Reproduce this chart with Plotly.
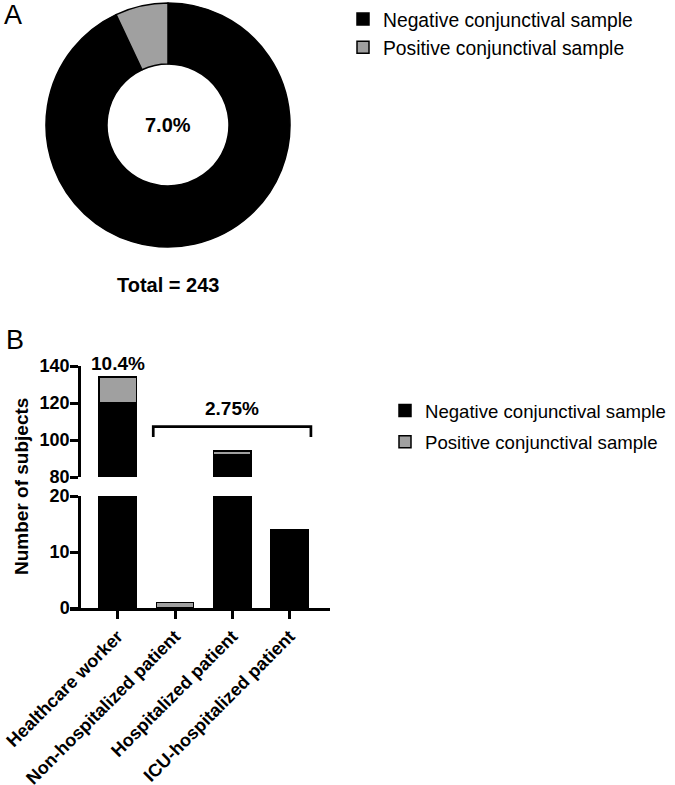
import plotly.graph_objects as go

W, H = 675, 785

# ---- data ----
pie_labels = ["Negative conjunctival sample", "Positive conjunctival sample"]
pie_values = [226, 17]
pie_center_text = "7.0%"
pie_total_text = "Total = 243"

categories = ["Healthcare worker", "Non-hospitalized patient",
              "Hospitalized patient", "ICU-hospitalized patient"]
negative = [120, 0, 92, 14]
positive = [14, 1, 2, 0]
hcw_pct = "10.4%"
patients_pct = "2.75%"

upper_ticks = [80, 100, 120, 140]
lower_ticks = [0, 10, 20]

BLACK = "#000000"
GRAY = "#a0a0a0"
FONT = "Arial, Liberation Sans, sans-serif"


def px_x(p):
    return p / W


def px_y(p):
    return 1 - p / H


fig = go.Figure()

# ---- Panel A: donut ----
fig.add_trace(go.Pie(
    labels=pie_labels, values=pie_values, hole=0.5, sort=False,
    direction="clockwise", rotation=0, textinfo="none",
    marker=dict(colors=[BLACK, GRAY], line=dict(color=BLACK, width=1.5)),
    domain=dict(x=[px_x(46), px_x(290)], y=[px_y(247), px_y(3)]),
    legend="legend", hoverinfo="label+value", automargin=False,
))

# ---- Panel B: broken-axis stacked bars ----
for yax, xax, show in [("y", "x", True), ("y2", "x2", False)]:
    fig.add_trace(go.Bar(
        x=categories, y=negative, name="Negative conjunctival sample",
        marker=dict(color=BLACK, line=dict(color=BLACK, width=1.5)),
        width=0.65, xaxis=xax, yaxis=yax, showlegend=show,
        legend="legend2", legendgroup="neg",
    ))
    fig.add_trace(go.Bar(
        x=categories, y=positive, name="Positive conjunctival sample",
        marker=dict(color=GRAY, line=dict(color=BLACK, width=1.5)),
        width=0.65, xaxis=xax, yaxis=yax, showlegend=show,
        legend="legend2", legendgroup="pos",
    ))

xdom = [px_x(70), px_x(330)]
xrange = [-0.832, 3.703]
axis_font = dict(family=FONT, size=18, color=BLACK, weight="bold")
xtick_font = dict(family=FONT, size=18, color=BLACK, weight="bold")

fig.update_layout(
    width=W, height=H, autosize=False,
    margin=dict(l=0, r=0, t=0, b=0, pad=0),
    paper_bgcolor="white", plot_bgcolor="white",
    barmode="stack", bargap=0.35,
    font=dict(family=FONT, color=BLACK),
    xaxis=dict(
        domain=xdom, range=xrange, anchor="y", type="category",
        showline=True, linecolor=BLACK, linewidth=2.5,
        ticks="outside", ticklen=8, tickwidth=2.5, tickcolor=BLACK,
        tickangle=-45, tickfont=xtick_font, showgrid=False, zeroline=False,
        fixedrange=True, automargin=False,
    ),
    xaxis2=dict(
        domain=xdom, range=xrange, anchor="y2", type="category",
        matches="x", visible=False, showgrid=False, automargin=False,
    ),
    yaxis=dict(
        domain=[px_y(608), px_y(496)], range=[0, 20], tickvals=lower_ticks,
        anchor="free", position=px_x(79),
        showline=True, linecolor=BLACK, linewidth=2.5,
        ticks="outside", ticklen=8, tickwidth=2.5, tickcolor=BLACK,
        tickfont=axis_font, showgrid=False, zeroline=False, automargin=False,
        ticklabelstandoff=-3,
    ),
    yaxis2=dict(
        domain=[px_y(477), px_y(366)], range=[80, 140], tickvals=upper_ticks,
        anchor="free", position=px_x(79),
        showline=True, linecolor=BLACK, linewidth=2.5,
        ticks="outside", ticklen=8, tickwidth=2.5, tickcolor=BLACK,
        tickfont=axis_font, showgrid=False, zeroline=False, automargin=False,
        ticklabelstandoff=-3,
    ),
    legend=dict(
        x=px_x(343), y=1, xanchor="left", yanchor="top",
        font=dict(family=FONT, size=19.3, color=BLACK),
        bgcolor="rgba(0,0,0,0)", itemclick=False, itemdoubleclick=False,
    ),
    legend2=dict(
        x=px_x(385), y=px_y(392), xanchor="left", yanchor="top",
        font=dict(family=FONT, size=18.6, color=BLACK),
        traceorder="grouped", tracegroupgap=4,
        bgcolor="rgba(0,0,0,0)", itemclick=False, itemdoubleclick=False,
    ),
    showlegend=True,
)

bold = dict(family=FONT, size=19, color=BLACK, weight="bold")
boldA = dict(family=FONT, size=20, color=BLACK, weight="bold")
annotations = [
    dict(text="A", x=px_x(12.5), y=px_y(15), font=dict(family=FONT, size=27, color=BLACK)),
    dict(text="B", x=px_x(15), y=px_y(340), font=dict(family=FONT, size=27, color=BLACK)),
    dict(text=pie_center_text, x=px_x(168), y=px_y(125), font=boldA),
    dict(text=pie_total_text, x=px_x(168), y=px_y(285), font=boldA),
    dict(text="Number of subjects", x=px_x(21), y=px_y(487), textangle=-90,
         font=dict(family=FONT, size=19, color=BLACK, weight="bold")),
]
for a in annotations:
    a.update(xref="paper", yref="paper", showarrow=False,
             xanchor="center", yanchor="middle")
fig.update_layout(annotations=annotations)

fig.add_annotation(text=hcw_pct, x=categories[0], xref="x2", y=px_y(363), yref="paper",
                   showarrow=False, font=bold, xanchor="center", yanchor="middle")
fig.add_annotation(text=patients_pct, x=categories[2], xref="x2", y=px_y(408), yref="paper",
                   showarrow=False, font=bold, xanchor="center", yanchor="middle")

# bracket spanning the patient groups
bx0, bx1 = 1 - 0.38, 3 + 0.37
fig.add_shape(type="path", xref="x2", yref="y2",
              path=f"M {bx0} 101.6 L {bx0} 107.2 L {bx1} 107.2 L {bx1} 101.6",
              line=dict(color=BLACK, width=2.7))

fig.write_html("out.html", config={"displayModeBar": False},
               post_script="document.body.style.margin='0';")
